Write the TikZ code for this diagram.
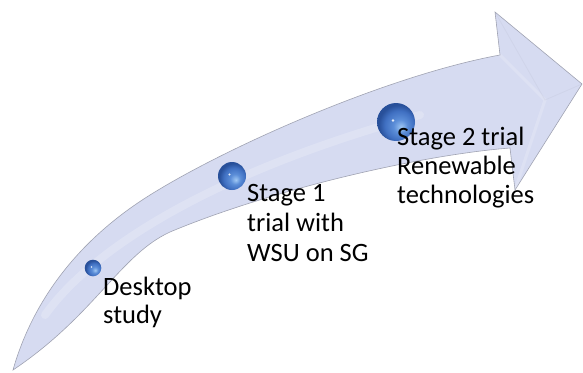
\documentclass[tikz,border=0pt]{standalone}
\usepackage{fontspec}
\setmainfont{Carlito}
\definecolor{arrowfill}{RGB}{214,219,241}
\definecolor{arrowedge}{RGB}{160,163,178}
\definecolor{sphLight}{RGB}{160,200,244}
\definecolor{sphMid}{RGB}{92,142,216}
\definecolor{sphMidB}{RGB}{64,112,194}
\definecolor{sphDark}{RGB}{40,80,154}
\pgfdeclareradialshading{orbshade}{\pgfpoint{7bp}{-7bp}}{%
  color(0bp)=(sphLight); color(9bp)=(sphMid); color(19bp)=(sphMidB);
  color(26bp)=(sphDark); color(50bp)=(sphDark)}
\tikzset{
  orb/.style={circle, draw=none, inner sep=0pt, shading=orbshade},
  glint/.style={circle, fill=white, fill opacity=0.85, inner sep=0pt, minimum size=2.6pt},
  label/.style={anchor=base west, inner sep=0pt, text=black,
    font=\fontsize{26.5}{29}\selectfont}
}
\begin{document}
\begin{tikzpicture}[x=1pt,y=-1pt]
\useasboundingbox (0,0) rectangle (583,372);
% arrow body
\coordinate (tail) at (13,370);
\coordinate (ub) at (500,55);
\coordinate (ht) at (495,12);
\coordinate (tip) at (582,84);
\coordinate (hb) at (515,190);
\coordinate (lb) at (510,148);
\path[fill=arrowfill, draw=arrowedge, line width=0.6pt, line join=miter]
  (tail) .. controls (30,310) and (70,245) .. (150,195)
  .. controls (230,145) and (390,75) .. (ub)
  -- (ht) -- (tip) -- (hb) -- (lb)
  .. controls (420,155) and (270,190) .. (170,232)
  .. controls (120,255) and (95,315) .. (tail) -- cycle;
% subtle highlights
\begin{scope}
  \clip (tail) .. controls (30,310) and (70,245) .. (150,195)
  .. controls (230,145) and (390,75) .. (ub)
  -- (ht) -- (tip) -- (hb) -- (lb)
  .. controls (420,155) and (270,190) .. (170,232)
  .. controls (120,255) and (95,315) .. (tail) -- cycle;
  \draw[white, opacity=0.2, line width=8pt, line cap=round]
    (45,315) .. controls (95,245) and (220,170) .. (420,115);
  \draw[white, opacity=0.18, line width=3pt]
    (ub) -- (545,100) -- (hb);
  \draw[arrowedge, opacity=0.12, line width=0.8pt]
    (ht) -- (545,100) -- (tip);
\end{scope}
% spheres
\node[orb, minimum size=16.6pt] (s1) at (93,268) {};
\node[glint, minimum size=1.6pt] (g1) at (91.5,267) {};
\node[orb, minimum size=28pt] (s2) at (232,176) {};
\node[glint, minimum size=2.2pt] (g2) at (229.5,174.5) {};
\node[orb, minimum size=38pt] (s3) at (396,122) {};
\node[glint, minimum size=2.8pt] (g3) at (393,120.5) {};
% labels
\node[label] (t1) at (103,295) {\vtop{\baselineskip=28pt\hbox{Desktop}\hbox{study}}};
\node[label] (t2) at (247,201.5) {\vtop{\baselineskip=30pt\hbox{Stage 1}\hbox{trial with}\hbox{WSU on SG}}};
\node[label] (t3) at (397,145) {\vtop{\baselineskip=29pt\hbox{Stage 2 trial}\hbox{Renewable}\hbox{technologies}}};
\end{tikzpicture}
\end{document}
